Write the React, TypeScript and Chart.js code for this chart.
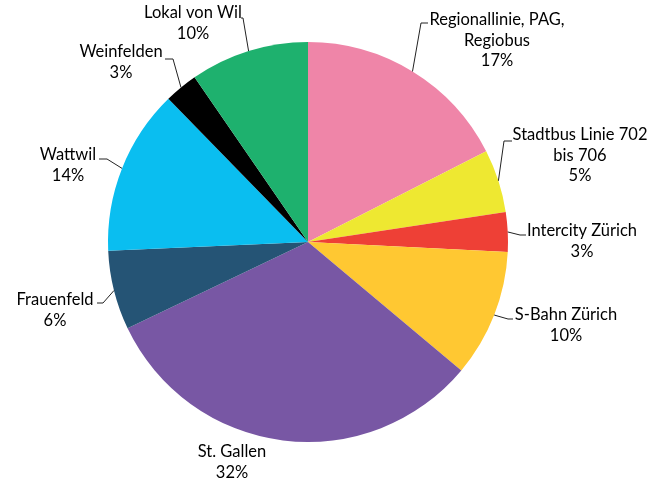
import React, { useEffect, useRef } from "react";
import { Chart, registerables } from "chart.js";

Chart.register(...registerables);

const categories = [
  ["Regionallinie, PAG,", "Regiobus"],
  ["Stadtbus Linie 702", "bis 706"],
  ["Intercity Zürich"],
  ["S-Bahn Zürich"],
  ["St. Gallen"],
  ["Frauenfeld"],
  ["Wattwil"],
  ["Weinfelden"],
  ["Lokal von Wil"],
];
const values = [17.5, 5.1, 3.2, 10.3, 31.8, 6.4, 13.4, 2.7, 9.6];
const percentLabels = ["17%", "5%", "3%", "10%", "32%", "6%", "14%", "3%", "10%"];
const colors = ["#EF85A8", "#EEE831", "#EE4036", "#FFC832", "#7857A4", "#255475", "#0ABEF0", "#000000", "#1EB16E"];

// label layout: text centre (first line) and leader elbow/end, relative to pie centre, in px at radius 200
const labelLayout = [
  { tx: 189, ty: -222, ex: 113, ey: -219, hx: 120 },
  { tx: 272, ty: -107, ex: 196, ey: -101, hx: 204 },
  { tx: 274, ty: -11, ex: 212, ey: -7, hx: 218 },
  { tx: 258, ty: 73, ex: 200, ey: 77, hx: 205 },
  { tx: -76, ty: 210, ex: null, ey: null, hx: null },
  { tx: -253, ty: 58, ex: -205, ey: 61, hx: -211 },
  { tx: -240, ty: -87, ex: -201, ey: -83, hx: -209 },
  { tx: -187, ty: -190, ex: -135, ey: -183, hx: -143 },
  { tx: -115, ty: -229, ex: -65, ey: -224, hx: -67 },
];

const labelPlugin = {
  id: "outLabels",
  afterDraw(chart: any) {
    const ctx = chart.ctx;
    const meta = chart.getDatasetMeta(0);
    ctx.save();
    ctx.font = "16.5px Lato";
    ctx.fillStyle = "#000";
    ctx.textAlign = "center";
    ctx.textBaseline = "middle";
    ctx.strokeStyle = "#222";
    ctx.lineWidth = 1;
    meta.data.forEach((arc: any, i: number) => {
      const p = arc.getProps(["x", "y", "startAngle", "endAngle", "outerRadius"], true);
      const s = p.outerRadius / 200;
      const L = labelLayout[i];
      const mid = (p.startAngle + p.endAngle) / 2;
      if (L.ex !== null) {
        const x0 = p.x + Math.cos(mid) * p.outerRadius;
        const y0 = p.y + Math.sin(mid) * p.outerRadius;
        ctx.beginPath();
        ctx.moveTo(x0, y0);
        ctx.lineTo(p.x + L.ex * s, p.y + L.ey * s);
        ctx.lineTo(p.x + (L.hx as number) * s, p.y + L.ey * s);
        ctx.stroke();
      }
      const lines = [...categories[i], percentLabels[i]];
      lines.forEach((t, k) => {
        ctx.fillText(t, p.x + L.tx * s, p.y + L.ty * s + k * 20.5);
      });
    });
    ctx.restore();
  },
};

export default function App() {
  const ref = useRef<HTMLCanvasElement>(null);
  useEffect(() => {
    const chart = new Chart(ref.current as HTMLCanvasElement, {
      type: "pie",
      data: {
        labels: categories.map((c) => c.join(" ")),
        datasets: [{ data: values, backgroundColor: colors, borderWidth: 0 }],
      },
      options: {
        animation: false,
        responsive: false,
        layout: { padding: { left: 108, right: 154, top: 42, bottom: 40 } },
        plugins: { legend: { display: false }, tooltip: { enabled: false } },
      },
      plugins: [labelPlugin],
    });
    return () => chart.destroy();
  }, []);
  return (
    <div style={{ position: "fixed", left: 0, top: 0, width: 662, height: 482, background: "#fff" }}>
      <canvas ref={ref} width={662} height={482} />
    </div>
  );
}
